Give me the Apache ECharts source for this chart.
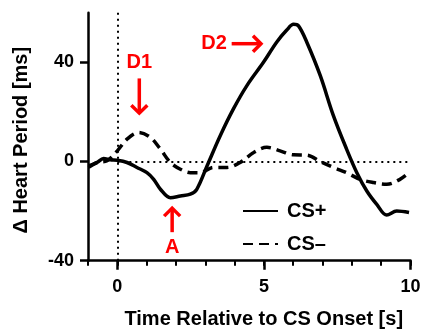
<!DOCTYPE html>
<html>
<head>
<meta charset="utf-8">
<script src="https://cdn.jsdelivr.net/npm/echarts@6/dist/echarts.min.js"></script>
<style>
  html, body { margin: 0; padding: 0; background: #fff; }
  #chart { width: 422px; height: 331px; }
</style>
</head>
<body>
<div id="chart"></div>
<script>
// Heart period change after CS onset, CS+ vs CS- trials
const timeCSplus = [-0.98, -0.69, -0.47, -0.24, 0, 0.33, 0.67, 1.01, 1.24, 1.47, 1.81, 2.15, 2.49, 2.71, 3.06, 3.51, 3.96, 4.42, 4.99, 5.44, 5.78, 6.01, 6.18, 6.46, 6.92, 7.37, 7.82, 8.17, 8.51, 8.85, 9.19, 9.53, 9.95];
const valuesCSplus = [-1.8, -0.4, 1.2, 0.7, 0.5, -0.4, -2.4, -4.5, -7.2, -11.2, -14.6, -13.9, -13.2, -11.2, -1.8, 10.4, 21.2, 30.6, 40.1, 48.2, 53, 55.3, 54.7, 48.2, 34.7, 18.5, 5, -4.5, -11.9, -17.3, -21.6, -20, -20.6];

const timeCSminus = [-0.98, -0.69, -0.35, 0, 0.33, 0.73, 1.13, 1.47, 1.81, 2.15, 2.49, 2.83, 3.28, 3.74, 4.19, 4.65, 5.1, 5.55, 6.01, 6.46, 6.92, 7.37, 7.82, 8.28, 8.74, 9.19, 9.64, 9.95];
const valuesCSminus = [-2.4, -0.4, 0.3, 4.3, 9, 11.7, 9.7, 5, -0.4, -3.1, -4.5, -4.5, -2.4, -2.4, -0.4, 3.6, 5.7, 4.3, 2.7, 2.6, 0, -2.4, -4.5, -7.2, -8.5, -9.2, -7.2, -4.5];

const seriesNames = ['CS+', 'CS–'];
const xRange = [-1, 10];
const yRange = [-40, 60];
const xMajorStep = 5;   // labelled ticks 0, 5, 10
const xMinorStep = 1;
const yStep = 40;       // labelled ticks -40, 0, 40

// Red callouts: label, label position, arrow start and end (data units)
const callouts = [
  { text: 'D1', at: [0.75, 39.8], from: [0.75, 33.5], to: [0.75, 19.5], dir: 'down' },
  { text: 'D2', at: [3.3, 47.5], from: [3.9, 47.5], to: [4.9, 47.5], dir: 'right' },
  { text: 'A',  at: [1.87, -34.5], from: [1.87, -28.5], to: [1.87, -18.8], dir: 'up' }
];

const font = '"Liberation Sans", Arial, sans-serif';
const pair = (xs, ys) => xs.map((x, i) => [x, ys[i]]);

// Plot box in pixels
const W = 422, H = 331;
const box = { left: 88, right: 11.5, top: 12.7, bottom: 70.3 };
const pxPerX = (W - box.left - box.right) / (xRange[1] - xRange[0]);
const pxPerY = (H - box.top - box.bottom) / (yRange[1] - yRange[0]);
// Tick grids: the major x ticks start at x = 0, the y ticks stop at y = 40
const xMajorLeft = box.left + (0 - xRange[0]) * pxPerX;
const yTickTop = box.top + (yRange[1] - 40) * pxPerY;

const black = '#000';
const tickLabel = { fontFamily: font, fontWeight: 'bold', fontSize: 18, color: black };

const chart = echarts.init(document.getElementById('chart'), null, { renderer: 'canvas' });

const option = {
  animation: false,
  backgroundColor: '#fff',
  grid: [
    Object.assign({ outerBoundsMode: 'none', containLabel: false }, box),
    { outerBoundsMode: 'none', containLabel: false, left: xMajorLeft, right: box.right, top: box.top, bottom: box.bottom },
    { outerBoundsMode: 'none', containLabel: false, left: box.left, right: box.right, top: yTickTop, bottom: box.bottom }
  ],
  xAxis: [
    {
      gridIndex: 0, type: 'value', min: xRange[0], max: xRange[1], interval: xMinorStep,
      name: 'Time Relative to CS Onset [s]',
      nameLocation: 'middle', nameGap: 49,
      nameTextStyle: { fontFamily: font, fontWeight: 'bold', fontSize: 20, color: black, padding: [0, 0, 0, 29] },
      axisLine: { onZero: false, lineStyle: { color: black, width: 2.5 } },
      axisTick: { show: true, length: 5, lineStyle: { color: black, width: 2 } },
      axisLabel: { show: false },
      splitLine: { show: false }
    },
    {
      gridIndex: 1, type: 'value', min: 0, max: xRange[1], interval: xMajorStep,
      axisLine: { show: false, onZero: false },
      axisTick: { show: true, length: 9, lineStyle: { color: black, width: 2.5 } },
      axisLabel: Object.assign({ margin: 17 }, tickLabel),
      splitLine: { show: false }
    },
    { gridIndex: 2, type: 'value', show: false, min: xRange[0], max: xRange[1] }
  ],
  yAxis: [
    {
      gridIndex: 0, type: 'value', min: yRange[0], max: yRange[1],
      name: 'Δ Heart Period [ms]',
      nameLocation: 'middle', nameGap: 57, nameRotate: 90,
      nameTextStyle: { fontFamily: font, fontWeight: 'bold', fontSize: 20, color: black, padding: [0, 7, 0, 0] },
      axisLine: { show: true, onZero: false, lineStyle: { color: black, width: 2.5 } },
      axisTick: { show: false },
      axisLabel: { show: false },
      splitLine: { show: false }
    },
    { gridIndex: 1, type: 'value', show: false, min: yRange[0], max: yRange[1] },
    {
      gridIndex: 2, type: 'value', min: yRange[0], max: 40, interval: yStep,
      axisLine: { show: false, onZero: false },
      axisTick: { show: true, length: 8, lineStyle: { color: black, width: 2.5 } },
      axisLabel: Object.assign({ margin: 14 }, tickLabel),
      splitLine: { show: false }
    }
  ],
  legend: {
    orient: 'vertical', left: 242, top: 201, padding: 0,
    itemWidth: 35, itemHeight: 20, itemGap: 13,
    itemStyle: { opacity: 0 },
    textStyle: { fontFamily: font, fontWeight: 'bold', fontSize: 20, lineHeight: 20, color: black, padding: [0, 0, 0, 4] },
    data: seriesNames
  },
  series: [
    {
      name: seriesNames[0], type: 'line', smooth: 0.35, symbol: 'none',
      xAxisIndex: 0, yAxisIndex: 0,
      data: pair(timeCSplus, valuesCSplus),
      lineStyle: { color: black, width: 3.5 }, itemStyle: { color: black },
      z: 3,
      markLine: {
        silent: true, symbol: 'none', label: { show: false },
        lineStyle: { color: black, type: [2, 4], width: 2 },
        data: [
          { xAxis: 0 },
          [{ coord: [0, 0] }, { coord: [10, 0] }]
        ]
      }
    },
    {
      name: seriesNames[1], type: 'line', smooth: 0.35, symbol: 'none',
      xAxisIndex: 0, yAxisIndex: 0,
      data: pair(timeCSminus, valuesCSminus),
      lineStyle: { color: black, width: 3.5, type: [10, 6] }, itemStyle: { color: black },
      z: 2
    }
  ]
};

chart.setOption(option);

// Callout labels and arrows, placed through the chart's own coordinate system
const red = '#ff0000';
const elements = [];
callouts.forEach(c => {
  const p = chart.convertToPixel({ gridIndex: 0 }, c.at);
  const a = chart.convertToPixel({ gridIndex: 0 }, c.from);
  const b = chart.convertToPixel({ gridIndex: 0 }, c.to);
  elements.push({
    type: 'text', x: p[0], y: p[1],
    style: { text: c.text, fill: red, font: 'bold 20px ' + font, align: 'center', verticalAlign: 'middle' }
  });
  elements.push({ type: 'line', shape: { x1: a[0], y1: a[1], x2: b[0], y2: b[1] }, style: { stroke: red, lineWidth: 3.5 } });
  const h = 8;
  let pts;
  if (c.dir === 'down') pts = [[b[0] - h, b[1] - h], [b[0], b[1]], [b[0] + h, b[1] - h]];
  if (c.dir === 'up') pts = [[b[0] - h, b[1] + h], [b[0], b[1]], [b[0] + h, b[1] + h]];
  if (c.dir === 'right') pts = [[b[0] - h, b[1] - h], [b[0], b[1]], [b[0] - h, b[1] + h]];
  elements.push({ type: 'polyline', shape: { points: pts }, style: { stroke: red, lineWidth: 3.5, fill: null } });
});
chart.setOption({ graphic: elements });
</script>
</body>
</html>
